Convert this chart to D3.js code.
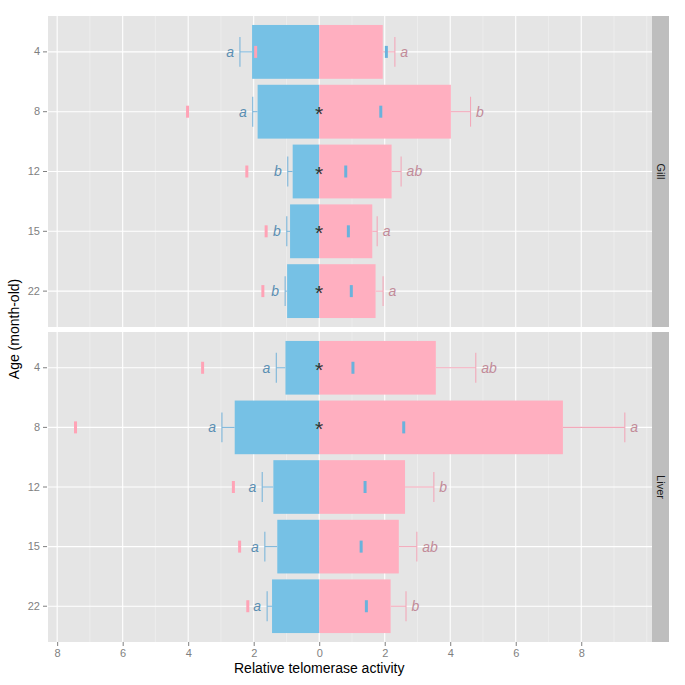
<!DOCTYPE html>
<html><head><meta charset="utf-8">
<script src="https://cdn.jsdelivr.net/npm/d3@7"></script>
<style>body{margin:0;background:#fff;} svg{display:block;}</style>
</head><body>
<svg id="c" width="685" height="685"></svg>
<script>
const ages = ["4","8","12","15","22"];
const xTicks = [-8,-6,-4,-2,0,2,4,6,8];
const xMinor = [-7,-5,-3,-1,1,3,5,7,9,10];
const panels = ["Gill","Liver"];

const gillBlue    = [2.05,1.88,0.81,0.89,0.98];
const gillBlueErr = [2.42,2.03,0.96,0.99,1.04];
const gillBlueLab = ["a","a","b","b","b"];
const gillPink    = [1.94,4.02,2.21,1.62,1.72];
const gillPinkErr = [2.31,4.62,2.50,1.77,1.95];
const gillPinkLab = ["a","b","ab","a","a"];
const gillStar    = [false,true,true,true,true];

const liverBlue    = [1.03,2.58,1.40,1.28,1.44];
const liverBlueErr = [1.31,2.97,1.74,1.66,1.59];
const liverBlueLab = ["a","a","a","a","a"];
const liverPink    = [3.56,7.44,2.62,2.43,2.18];
const liverPinkErr = [4.78,9.33,3.50,2.98,2.65];
const liverPinkLab = ["ab","a","b","ab","b"];
const liverStar    = [true,true,false,false,false];

const panelData = [
  {name:panels[0], blue:gillBlue, blueErr:gillBlueErr, blueLab:gillBlueLab, pink:gillPink, pinkErr:gillPinkErr, pinkLab:gillPinkLab, star:gillStar, y0:16, y1:327},
  {name:panels[1], blue:liverBlue, blueErr:liverBlueErr, blueLab:liverBlueLab, pink:liverPink, pinkErr:liverPinkErr, pinkLab:liverPinkLab, star:liverStar, y0:332, y1:642}
];

const C = {bg:"#E5E5E5", blue:"#76C1E5", pink:"#FFAFC0", blueErr:"#7DB6DA", pinkErr:"#F2A9BA",
  blueLab:"#5B8FB3", pinkLab:"#C28B99", blueMark:"#6AB2DC", pinkMark:"#FFA3B6", strip:"#BEBEBE"};
const font = "'Liberation Sans', Arial, sans-serif";

const svg = d3.select("#c");
const PL = 48, PR = 652, SR = 669;
const x = d3.scaleLinear().domain([-8.28, 10.16]).range([PL, PR]);

panelData.forEach(p => {
  const y = d3.scaleBand().domain(ages).range([p.y0, p.y1]).paddingInner(0.1).paddingOuter(0.15);
  const step = y.step(), bw = y.bandwidth();
  const cy = a => y(a) + bw/2;
  const g = svg.append("g");
  g.append("rect").attr("x", PL).attr("y", p.y0).attr("width", PR-PL).attr("height", p.y1-p.y0).attr("fill", C.bg);
  g.selectAll(".mn").data(xMinor).join("line").attr("x1", d=>x(d)).attr("x2", d=>x(d))
    .attr("y1", p.y0).attr("y2", p.y1).attr("stroke", "#F2F2F2").attr("stroke-width", 0.6);
  g.selectAll(".mj").data(xTicks).join("line").attr("x1", d=>x(d)).attr("x2", d=>x(d))
    .attr("y1", p.y0).attr("y2", p.y1).attr("stroke", "#fff").attr("stroke-width", 1.1);
  g.selectAll(".hg").data(ages).join("line").attr("x1", PL).attr("x2", PR)
    .attr("y1", d=>cy(d)).attr("y2", d=>cy(d)).attr("stroke", "#fff").attr("stroke-width", 1.1);
  g.selectAll(".bb").data(ages).join("rect").attr("x", (d,i)=>x(-p.blue[i])).attr("width", (d,i)=>x(0)-x(-p.blue[i]))
    .attr("y", d=>y(d)).attr("height", bw).attr("fill", C.blue);
  g.selectAll(".pb").data(ages).join("rect").attr("x", x(0)).attr("width", (d,i)=>x(p.pink[i])-x(0))
    .attr("y", d=>y(d)).attr("height", bw).attr("fill", C.pink);
  const capH = step*0.5;
  ages.forEach((a,i) => {
    g.append("line").attr("x1", x(-p.blue[i])).attr("x2", x(-p.blueErr[i])).attr("y1", cy(a)).attr("y2", cy(a)).attr("stroke", C.blueErr).attr("stroke-width", 1.1);
    g.append("line").attr("x1", x(-p.blueErr[i])).attr("x2", x(-p.blueErr[i])).attr("y1", cy(a)-capH/2).attr("y2", cy(a)+capH/2).attr("stroke", C.blueErr).attr("stroke-width", 1.1);
    g.append("line").attr("x1", x(p.pink[i])).attr("x2", x(p.pinkErr[i])).attr("y1", cy(a)).attr("y2", cy(a)).attr("stroke", C.pinkErr).attr("stroke-width", 1.1);
    g.append("line").attr("x1", x(p.pinkErr[i])).attr("x2", x(p.pinkErr[i])).attr("y1", cy(a)-capH/2).attr("y2", cy(a)+capH/2).attr("stroke", C.pinkErr).attr("stroke-width", 1.1);
    g.append("rect").attr("x", x(p.blue[i])-1.5).attr("width", 3).attr("y", cy(a)-6).attr("height", 12).attr("fill", C.blueMark);
    g.append("rect").attr("x", x(-p.pink[i])-1.5).attr("width", 3).attr("y", cy(a)-6).attr("height", 12).attr("fill", C.pinkMark);
    g.append("text").attr("x", x(-p.blueErr[i])-6).attr("y", cy(a)).attr("dy","0.35em").attr("text-anchor","end")
      .attr("font-family", font).attr("font-style","italic").attr("font-size", 14).attr("fill", C.blueLab).text(p.blueLab[i]);
    g.append("text").attr("x", x(p.pinkErr[i])+5.5).attr("y", cy(a)).attr("dy","0.35em").attr("text-anchor","start")
      .attr("font-family", font).attr("font-style","italic").attr("font-size", 14).attr("fill", C.pinkLab).text(p.pinkLab[i]);
    if (p.star[i]) {
      g.append("text").attr("x", x(0)).attr("y", cy(a)+9).attr("text-anchor","middle")
        .attr("font-family", font).attr("font-size", 21).attr("fill", "#333").text("*");
    }
  });
  const yAxis = d3.axisLeft(y).tickSize(4).tickPadding(3);
  const ya = g.append("g").attr("transform", `translate(${PL-1},0)`).call(yAxis);
  ya.select(".domain").remove();
  ya.selectAll(".tick line").attr("stroke", "#7F7F7F");
  ya.selectAll(".tick text").attr("fill", "#7F7F7F").attr("font-family", font).attr("font-size", 11);
  g.append("rect").attr("x", PR).attr("y", p.y0).attr("width", SR-PR).attr("height", p.y1-p.y0).attr("fill", C.strip);
  g.append("text").attr("transform", `translate(${(PR+SR)/2},${(p.y0+p.y1)/2}) rotate(90)`).attr("text-anchor","middle")
    .attr("dy","0.35em").attr("font-family", font).attr("font-size", 11).attr("fill", "#1a1a1a").text(p.name);
});

const xa = svg.append("g").attr("transform", `translate(0,642)`)
  .call(d3.axisBottom(x).tickValues(xTicks).tickFormat(d=>Math.abs(d)).tickSize(4).tickPadding(3));
xa.select(".domain").remove();
xa.selectAll(".tick line").attr("stroke", "#7F7F7F");
xa.selectAll(".tick text").attr("fill", "#7F7F7F").attr("font-family", font).attr("font-size", 11);

svg.append("text").attr("x", x(0)).attr("y", 673).attr("text-anchor","middle")
  .attr("font-family", font).attr("font-size", 14).attr("fill", "#000").text("Relative telomerase activity");
svg.append("text").attr("transform", `translate(19,${(16+642)/2}) rotate(-90)`).attr("text-anchor","middle")
  .attr("font-family", font).attr("font-size", 14).attr("fill", "#000").text("Age (month-old)");
</script>
</body></html>
